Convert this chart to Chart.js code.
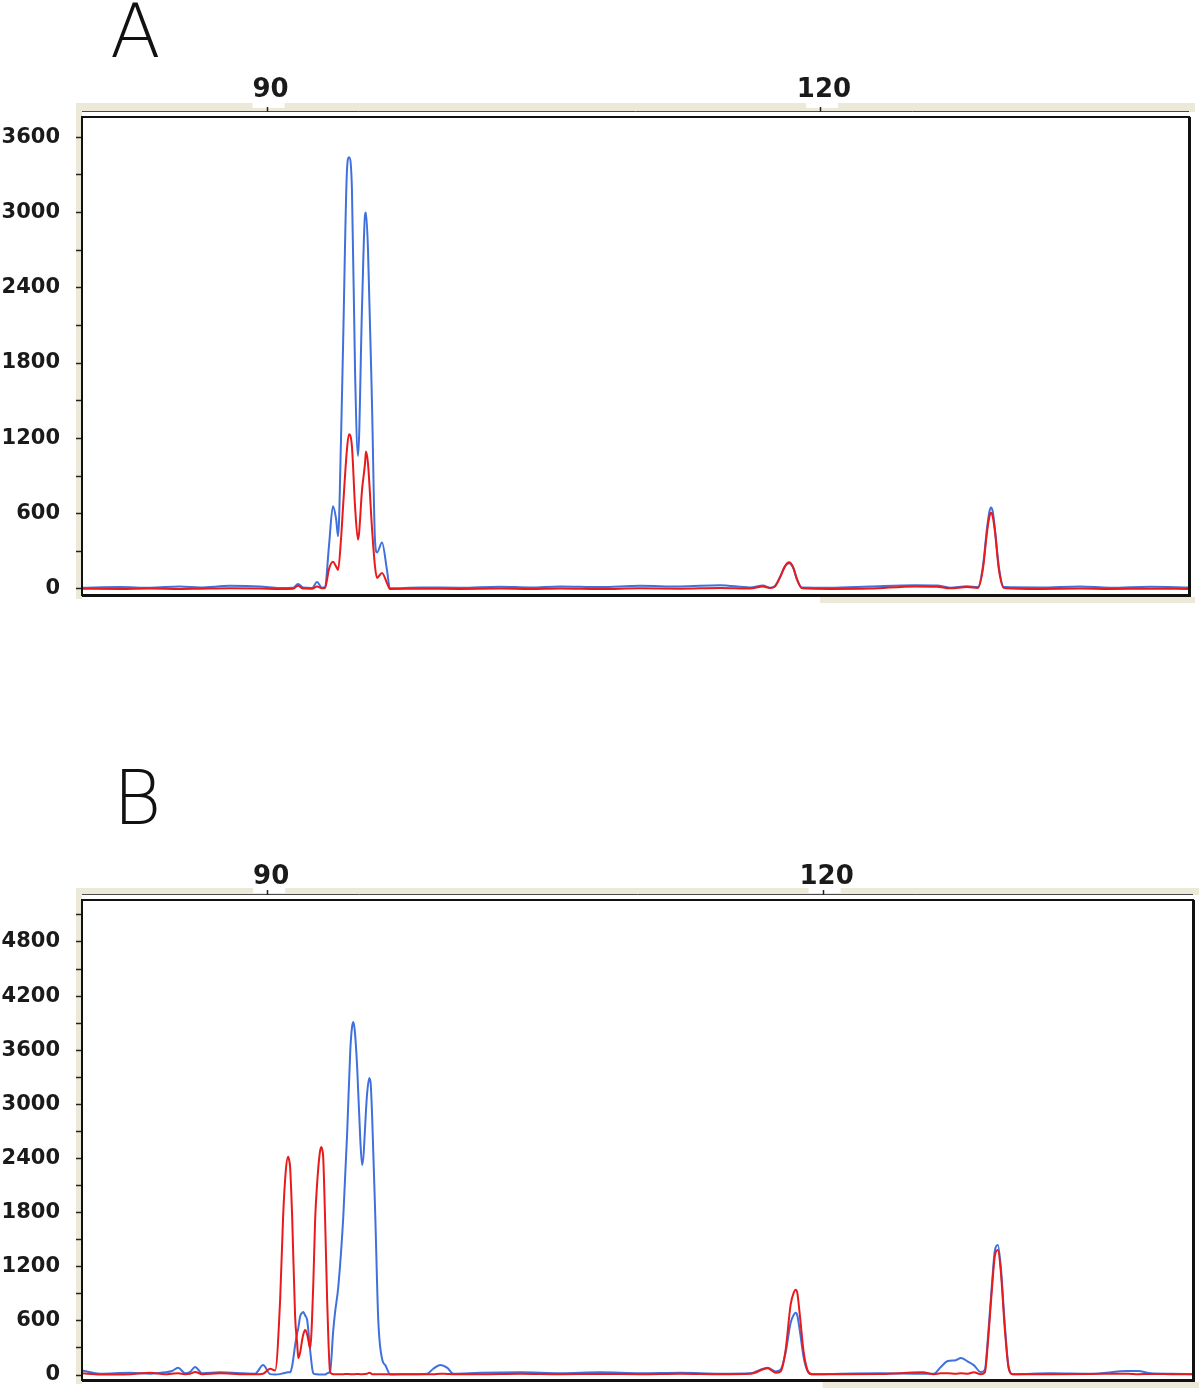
<!DOCTYPE html>
<html><head><meta charset="utf-8">
<script src="https://cdn.jsdelivr.net/npm/chart.js@4.4.1/dist/chart.umd.min.js"></script>
<style>
html,body{margin:0;padding:0;background:#fff;width:1200px;height:1388px;overflow:hidden;position:relative}
.wrap{position:absolute;left:0;width:1200px}
.letter{position:absolute;font-family:"DejaVu Sans",sans-serif;font-weight:200;font-size:74px;line-height:74px;color:#111}
canvas{display:block}
</style></head><body>
<div class="letter" style="left:110px;top:-6px">A</div>
<div class="wrap" style="top:0;height:620px"><canvas id="cA" width="1200" height="620"></canvas></div>
<div class="letter" style="left:113px;top:761px">B</div>
<div class="wrap" style="top:780px;height:608px"><canvas id="cB" width="1200" height="608"></canvas></div>
<script>
// ---- data (size in bp, intensity in RFU) ----
const sizesA = [80.00,82.06,83.69,85.31,86.40,88.02,89.65,90.73,91.44,91.71,91.98,92.47,92.74,93.01,93.17,93.39,93.60,93.77,93.88,94.04,94.15,94.36,94.47,94.63,94.80,94.96,95.18,95.34,95.39,95.50,95.72,95.88,95.99,96.26,96.53,96.69,98.32,100.49,102.66,104.28,105.91,108.08,110.24,112.41,114.58,116.21,116.91,117.29,117.56,117.83,118.10,118.32,118.54,118.75,119.02,120.54,122.71,125.15,126.34,127.05,127.97,128.56,128.83,129.05,129.18,129.27,129.36,129.48,129.70,129.97,131.92,134.09,135.72,137.89,140.00];
const blueA = [10,15,10,20,12,25,20,8,10,40,12,8,55,10,15,350,660,560,420,1200,1940,3330,3440,3190,1730,1060,2260,2980,3000,2710,1460,390,290,370,150,5,12,10,18,12,20,15,25,20,30,12,28,10,25,95,180,205,170,75,12,10,20,30,28,10,22,15,180,480,615,650,620,480,170,15,12,20,10,18,12];
const redA = [2,0,3,0,2,5,3,0,2,25,3,2,20,5,8,160,216,180,152,400,656,1112,1232,1136,656,392,792,1000,1096,1000,480,180,88,128,48,0,2,0,3,0,4,0,5,2,8,3,20,8,20,90,180,212,175,80,5,0,3,20,18,5,15,8,160,450,575,608,580,460,150,8,0,3,0,2,0];

const sizesB = [80.00,80.97,82.59,83.68,84.49,84.86,85.19,85.57,85.84,86.11,86.49,87.46,88.54,89.35,89.78,90.16,90.43,90.70,90.86,91.00,91.13,91.19,91.24,91.35,91.51,91.62,91.68,91.78,91.89,91.95,92.05,92.16,92.22,92.32,92.49,92.59,92.70,92.84,92.92,93.00,93.03,93.13,93.24,93.40,93.57,93.67,93.84,94.11,94.32,94.49,94.58,94.65,94.73,94.86,95.03,95.13,95.40,95.51,95.59,95.67,95.84,96.00,96.22,96.38,96.65,97.73,98.65,98.97,99.35,99.73,100.05,101.51,103.67,105.84,108.00,110.16,112.32,114.49,116.11,117.03,117.46,117.73,118.00,118.27,118.45,118.54,118.63,118.76,118.97,119.19,119.41,120.97,123.14,125.40,126.00,126.38,126.76,127.19,127.46,127.84,128.16,128.54,128.76,128.92,129.14,129.30,129.46,129.62,129.84,130.05,130.27,132.32,134.49,136.49,137.03,137.73,138.81,140.00];
const blueB = [50,15,25,15,30,45,80,20,35,90,20,30,20,15,110,10,5,10,20,25,30,30,30,100,330,466,520,650,690,700,660,610,500,277,20,10,8,5,5,5,5,5,20,40,500,700,976,1751,2682,3603,3850,3913,3820,3414,2605,2328,3126,3292,3230,2860,1751,610,166,110,5,10,15,70,110,80,15,25,30,20,30,20,25,15,20,80,40,60,250,580,670,690,660,500,200,40,8,15,20,15,15,90,155,165,188,150,110,33,60,400,1000,1380,1442,1200,550,80,10,20,15,44,44,20,15,10];
const redB = [20,5,10,25,8,15,20,10,15,35,10,20,10,8,15,70,50,830,1750,2250,2418,2380,2300,1750,643,350,188,250,388,450,500,450,388,300,1000,1718,2128,2460,2528,2470,2400,1718,830,30,10,8,10,10,12,10,10,10,10,12,10,10,15,25,20,10,10,10,10,8,10,8,10,10,15,12,10,10,15,10,12,10,15,10,15,75,25,40,280,780,920,945,910,680,260,50,10,10,12,30,10,20,20,15,20,15,30,10,30,350,950,1320,1386,1150,500,70,8,10,12,15,10,12,10,8];

const xTickValues = [90, 120];
const yTicksA = [0,300,600,900,1200,1500,1800,2100,2400,2700,3000,3300,3600];
const yTicksB = [0,300,600,900,1200,1500,1800,2100,2400,2700,3000,3300,3600,3900,4200,4500,4800,5100];
const yLabelEvery = 600;

const BLUE = '#3f70dc', RED = '#e81a1c', BEIGE = '#ece9d8', INK = '#1a1a1a';

function pts(xs, ys){ return xs.map((x,i)=>({x:x, y:ys[i]})); }

const deco = {
  id:'deco',
  beforeDraw(chart, args, o){
    const ctx = chart.ctx, a = chart.chartArea, sx = chart.scales.x;
    ctx.save();
    ctx.fillStyle = BEIGE;
    ctx.fillRect(a.left-6, a.top-o.band, a.right-a.left+12, o.band-5);
    ctx.fillRect(a.left-6, a.top-o.band, 6, a.bottom-a.top+o.band+4);
    const p120 = sx.getPixelForValue(120);
    ctx.fillRect(p120, a.bottom+2, a.right+6-p120, 6);
    ctx.fillStyle = '#fff';
    for (const v of xTickValues){ const p = sx.getPixelForValue(v); ctx.fillRect(p-14, a.top-o.band, 32, 5); }
    ctx.strokeStyle = '#4a4a4a'; ctx.lineWidth = 1;
    ctx.beginPath(); ctx.moveTo(a.left, a.top-5.5); ctx.lineTo(a.right, a.top-5.5); ctx.stroke();
    ctx.strokeStyle = '#222'; ctx.lineWidth = 1.5;
    for (const v of xTickValues){ const p = Math.round(sx.getPixelForValue(v))+0.5; ctx.beginPath(); ctx.moveTo(p, a.top-5); ctx.lineTo(p, a.top-10); ctx.stroke(); }
    ctx.restore();
  },
  afterDraw(chart){
    const ctx = chart.ctx, a = chart.chartArea;
    ctx.save(); ctx.strokeStyle = '#111';
    ctx.lineWidth = 2;
    ctx.strokeRect(a.left, a.top, a.right-a.left, a.bottom-a.top);
    ctx.lineWidth = 3;
    ctx.beginPath(); ctx.moveTo(a.right+0.5, a.top); ctx.lineTo(a.right+0.5, a.bottom+0.5); ctx.lineTo(a.left, a.bottom+0.5); ctx.stroke();
    ctx.restore();
  }
};

function makeChart(id, xs, blue, red, yMin, yMax, yTicks, axisH, labelPad, pad, band){
  return new Chart(document.getElementById(id), {
    type:'line',
    data:{ datasets:[
      { label:'red', data:pts(xs, red), borderColor:RED, borderWidth:2, pointRadius:0, cubicInterpolationMode:'monotone', fill:false },
      { label:'blue', data:pts(xs, blue), borderColor:BLUE, borderWidth:2, pointRadius:0, cubicInterpolationMode:'monotone', fill:false }
    ]},
    options:{
      responsive:false, animation:false, events:[],
      layout:{ padding:pad },
      plugins:{ legend:{display:false}, tooltip:{enabled:false}, deco:{band:band} },
      scales:{
        x:{ type:'linear', position:'top', min:80, max:140,
          afterBuildTicks:s=>{ s.ticks = xTickValues.map(v=>({value:v})); },
          afterFit:s=>{ s.height = axisH; s.paddingLeft = 0; s.paddingRight = 0; },
          grid:{ display:false, drawTicks:false, drawOnChartArea:false },
          border:{ display:false },
          ticks:{ font:{family:'DejaVu Sans', weight:'bold', size:26}, color:INK, padding:labelPad, labelOffset:4, maxRotation:0, autoSkip:false, callback:v=>String(v) }
        },
        y:{ type:'linear', min:yMin, max:yMax,
          afterBuildTicks:s=>{ s.ticks = yTicks.map(v=>({value:v})); },
          afterFit:s=>{ s.width = 82; s.paddingTop = 0; s.paddingBottom = 0; },
          grid:{ drawOnChartArea:false, drawTicks:true, tickLength:6, tickColor:'#222', tickWidth:1.5 },
          border:{ display:false },
          ticks:{ font:{family:'DejaVu Sans', weight:'bold', size:21}, color:INK, padding:16, autoSkip:false, callback:v=> (v % yLabelEvery === 0 ? String(v) : '') }
        }
      }
    },
    plugins:[deco]
  });
}

makeChart('cA', sizesA, blueA, redA, -48, 3760, yTicksA, 117, 11, {left:0, top:0, right:11, bottom:25}, 14);
makeChart('cB', sizesB, blueB, redB, -55, 5265, yTicksB, 120, 7, {left:0, top:0, right:7, bottom:8}, 12);
</script>
</body></html>
